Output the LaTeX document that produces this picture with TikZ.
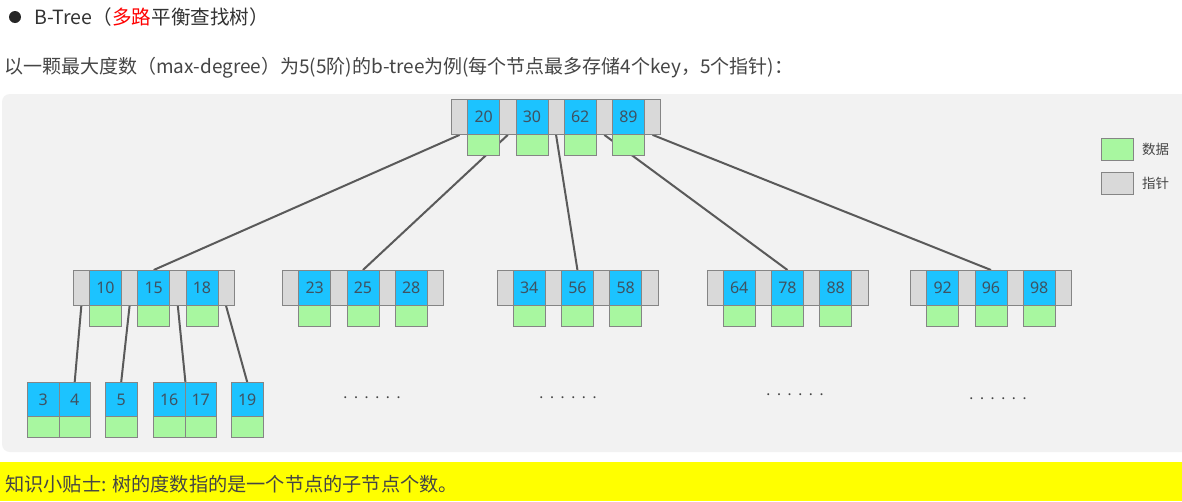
\documentclass[tikz,border=0pt]{standalone}
\usepackage{fontspec}
\setmainfont{Noto Sans CJK SC}
\newfontfamily\numfont{Noto Sans}

\definecolor{keyblue}{HTML}{1CC3FF}
\definecolor{datgreen}{HTML}{A8F7A0}
\definecolor{ptrgray}{HTML}{D9D9D9}
\definecolor{cellline}{HTML}{858585}
\definecolor{linkgray}{HTML}{5A5A5A}
\definecolor{panelbg}{HTML}{F2F2F2}
\definecolor{tipyellow}{HTML}{FFFF00}
\definecolor{textgray}{HTML}{454545}
\definecolor{titlegray}{HTML}{333333}
\definecolor{numcol}{HTML}{3E5262}

\pgfdeclarelayer{panel}
\pgfdeclarelayer{links}
\pgfsetlayers{panel,links,main}

\tikzset{
  cell/.style={draw=cellline, line width=0.9pt, inner sep=0pt, anchor=north west},
  ptr/.style={cell, fill=ptrgray, minimum width=16.25pt, minimum height=35pt},
  key/.style={cell, fill=keyblue, minimum width=32pt, minimum height=35pt,
    font=\numfont\fontsize{16}{16}\selectfont, text=numcol},
  dat/.style={cell, fill=datgreen, minimum width=32pt, minimum height=20.5pt},
  leafkey/.style={key, minimum width=31.5pt, minimum height=34pt},
  leafdat/.style={dat, minimum width=31.5pt, minimum height=21pt},
  link/.style={draw=linkgray, line width=2pt},
  label/.style={anchor=west, inner sep=0pt, text=textgray},
  dots/.style={inner sep=0pt, text=textgray, font=\numfont\fontsize{15}{15}\selectfont},
}

% inner node: name, left x, top y, keys, number of keys
\newcommand\treenode[5]{%
  \foreach \k [count=\i from 0] in {#4}{%
    \node[ptr] (#1-p\i) at ({#2+48.25*\i},#3) {};
    \node[key] (#1-k\i) at ({#2+48.25*\i+16.25},#3) {\k};
    \node[dat] (#1-d\i) at ({#2+48.25*\i+16.25},{#3+35}) {};
  }%
  \node[ptr] (#1-p#5) at ({#2+48.25*#5},#3) {};
}
% leaf node: name, left x, top y, keys
\newcommand\leafnode[4]{%
  \foreach \k [count=\i from 0] in {#4}{%
    \node[leafkey] (#1-k\i) at ({#2+31.5*\i},#3) {\k};
    \node[leafdat] (#1-d\i) at ({#2+31.5*\i},{#3+34}) {};
  }%
}
\newcommand\sixdots{.\hskip6.6pt.\hskip6.6pt.\hskip6.6pt.\hskip6.6pt.\hskip6.6pt.}

\begin{document}
\begin{tikzpicture}[x=1pt, y=-1pt]
\useasboundingbox (0,0) rectangle (1182,501);

\begin{pgfonlayer}{panel}
  \fill[white] (0,0) rectangle (1182,501);
  \begin{scope}
    \clip (0,0) rectangle (1182,501);
    \fill[panelbg, rounded corners=8pt] (2,94) rectangle (1200,452);
  \end{scope}
\end{pgfonlayer}

% heading
\node[circle, fill=black!85, minimum size=12pt, inner sep=0pt] (bullet) at (15,17) {};
\node[label, text=titlegray, font=\fontsize{19.6}{24}\selectfont] (title) at (34,17)
  {B-Tree（\textcolor{red}{多路}平衡查找树）};
\node[label, font=\fontsize{19}{22}\selectfont] (intro) at (4,68)
  {以一颗最大度数（max-degree）为5(5阶)的b-tree为例(每个节点最多存储4个key，5个指针)：};

% tree
\treenode{root}{451}{99}{20,30,62,89}{4}
\treenode{nA}{72.75}{270}{10,15,18}{3}
\treenode{nB}{282}{270}{23,25,28}{3}
\treenode{nC}{496.5}{270}{34,56,58}{3}
\treenode{nD}{706.5}{270}{64,78,88}{3}
\treenode{nE}{910}{270}{92,96,98}{3}

\leafnode{lA}{27}{382}{3,4}
\leafnode{lB}{105}{382}{5}
\leafnode{lC}{153}{382}{16,17}
\leafnode{lD}{231}{382}{19}

\node[dots] (dotsB) at (372,398) {\sixdots};
\node[dots] (dotsC) at (568,398) {\sixdots};
\node[dots] (dotsD) at (795,395) {\sixdots};
\node[dots] (dotsE) at (998,399) {\sixdots};

\begin{pgfonlayer}{links}
  \draw[link] (root-p0.south) -- (nA-k1.north);
  \draw[link] (root-p1.south) -- (nB-k1.north);
  \draw[link] (root-p2.south) -- (nC-k1.north);
  \draw[link] (root-p3.south) -- (nD-k1.north);
  \draw[link] (root-p4.south) -- (nE-k1.north);
  \draw[link] (nA-p0.south) -- (lA-k1.north);
  \draw[link] (nA-p1.south) -- (lB-k0.north);
  \draw[link] (nA-p2.south) -- (lC-k0.north east);
  \draw[link] (nA-p3.south) -- (lD-k0.north);
\end{pgfonlayer}

% legend
\node[dat, minimum height=22pt] (legdat) at (1101,138) {};
\node[label, font=\fontsize{13.5}{16}\selectfont] (legdattext) at (1142,149) {数据};
\node[ptr, minimum width=32pt, minimum height=22pt] (legptr) at (1101,172) {};
\node[label, font=\fontsize{13.5}{16}\selectfont] (legptrtext) at (1142,183) {指针};

% tip bar
\node[fill=tipyellow, anchor=north west, inner sep=0pt, minimum width=1182pt,
  minimum height=39pt] (tipbar) at (0,462) {};
\node[label, font=\fontsize{19.2}{22}\selectfont] (tip) at (5,484)
  {知识小贴士: 树的度数指的是一个节点的子节点个数。};
\end{tikzpicture}
\end{document}
